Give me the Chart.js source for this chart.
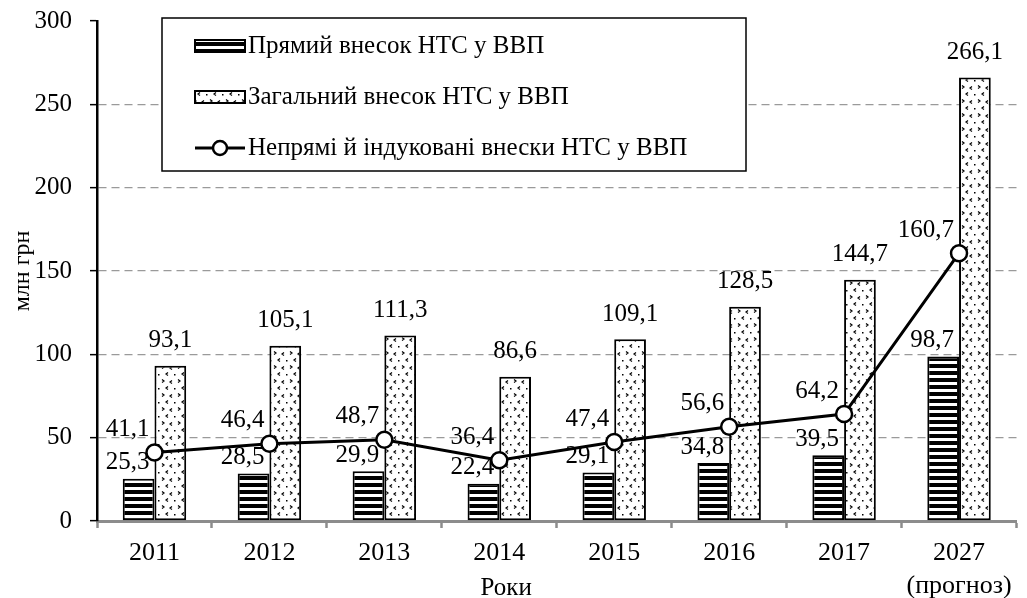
<!DOCTYPE html>
<html lang="uk">
<head>
<meta charset="utf-8">
<title>Внесок НТС у ВВП</title>
<style>
    html, body { margin: 0; padding: 0; background: #ffffff; }
    #wrap { width: 1027px; height: 598px; position: relative; }
</style>
<script src="https://cdn.jsdelivr.net/npm/chart.js@4.4.1/dist/chart.umd.min.js"></script>
</head>
<body>
<div id="wrap"><canvas id="chart" width="1027" height="598"></canvas></div>
<script>
// Data
const years = ['2011', '2012', '2013', '2014', '2015', '2016', '2017', ['2027', '(прогноз)']];
const directContribution = [25.3, 28.5, 29.9, 22.4, 29.1, 34.8, 39.5, 98.7];
const totalContribution = [93.1, 105.1, 111.3, 86.6, 109.1, 128.5, 144.7, 266.1];
const indirectContribution = [41.1, 46.4, 48.7, 36.4, 47.4, 56.6, 64.2, 160.7];
const seriesNames = [
    'Прямий внесок НТС у ВВП',
    'Загальний внесок НТС у ВВП',
    'Непрямі й індуковані внески НТС у ВВП'
];
const yTicks = [0, 50, 100, 150, 200, 250, 300];
const yTitle = 'млн грн';
const xTitle = 'Роки';

const FONT = '"Liberation Serif", "Times New Roman", serif';

function fmt(v) {
    return v.toFixed(1).replace('.', ',');
}

// Fill patterns
function makeStripes(ctx) {
    const c = document.createElement('canvas');
    c.width = 8; c.height = 7;
    const g = c.getContext('2d');
    g.fillStyle = '#ffffff';
    g.fillRect(0, 0, 8, 7);
    g.fillStyle = '#000000';
    g.fillRect(0, 0, 8, 4);
    return ctx.createPattern(c, 'repeat');
}

function makeSpeckles(ctx) {
    const c = document.createElement('canvas');
    c.width = 16; c.height = 14;
    const g = c.getContext('2d');
    g.fillStyle = '#ffffff';
    g.fillRect(0, 0, 16, 14);
    g.strokeStyle = '#000000';
    g.lineWidth = 1.2;
    const chevron = (x, y, dir) => {
        g.beginPath();
        g.moveTo(x, y - 1.5);
        g.lineTo(x + 2 * dir, y);
        g.lineTo(x, y + 1.5);
        g.stroke();
    };
    chevron(2, 3, 1);
    chevron(12, 4, -1);
    chevron(8, 10, -1);
    g.fillStyle = '#000000';
    g.fillRect(14, 10, 1.5, 1.5);
    return ctx.createPattern(c, 'repeat');
}

const canvas = document.getElementById('chart');
const ctx = canvas.getContext('2d');
const stripes = makeStripes(ctx);
const speckles = makeSpeckles(ctx);

// Value labels next to bars and points
const valueLabels = {
    id: 'valueLabels',
    afterDatasetsDraw(chart) {
        const c = chart.ctx;
        c.save();
        c.font = '25px ' + FONT;
        c.fillStyle = '#000000';
        c.textBaseline = 'middle';
        chart.data.datasets.forEach((ds, i) => {
            const meta = chart.getDatasetMeta(i);
            meta.data.forEach((el, j) => {
                const txt = fmt(ds.data[j]);
                if (ds.labelMode === 'top') {
                    c.textAlign = 'center';
                    c.fillText(txt, el.x, el.y - 25);
                } else if (ds.labelMode === 'barLeft') {
                    c.textAlign = 'right';
                    c.fillText(txt, el.x + el.width / 2 - 5, el.y - 16);
                } else if (ds.labelMode === 'pointLeft') {
                    c.textAlign = 'right';
                    c.fillText(txt, el.x - 5, el.y - 23);
                }
            });
        });
        c.restore();
    }
};

// Boxed legend in the upper left and the x axis title
const boxedLegend = {
    id: 'boxedLegend',
    afterDraw(chart) {
        const c = chart.ctx;
        const area = chart.chartArea;
        const ds = chart.data.datasets;
        const boxX = 162, boxY = 18, boxW = 584, boxH = 153;
        c.save();
        c.fillStyle = '#ffffff';
        c.fillRect(boxX, boxY, boxW, boxH);
        c.strokeStyle = '#000000';
        c.lineWidth = 1.5;
        c.strokeRect(boxX, boxY, boxW, boxH);

        const iconX = 195, iconW = 50, textX = 248;
        const rows = [46, 97, 148];
        c.font = '25px ' + FONT;
        c.textBaseline = 'middle';
        c.textAlign = 'left';
        ds.forEach((d, i) => {
            const y = rows[i];
            if (d.type === 'line') {
                c.strokeStyle = '#000000';
                c.lineWidth = 3;
                c.beginPath();
                c.moveTo(iconX, y);
                c.lineTo(iconX + iconW, y);
                c.stroke();
                c.beginPath();
                c.arc(iconX + iconW / 2, y, 7, 0, Math.PI * 2);
                c.fillStyle = '#ffffff';
                c.fill();
                c.lineWidth = 2.5;
                c.stroke();
            } else {
                c.fillStyle = d.backgroundColor;
                c.fillRect(iconX, y - 6, iconW, 12);
                c.strokeStyle = '#000000';
                c.lineWidth = 2;
                c.strokeRect(iconX, y - 6, iconW, 12);
            }
            c.fillStyle = '#000000';
            c.fillText(d.label, textX, y);
        });

        // x axis title
        c.textAlign = 'center';
        c.fillText(xTitle, area.left + (area.right - area.left) * 0.445, 588);
        c.restore();
    }
};

new Chart(canvas, {
    type: 'bar',
    data: {
        labels: years,
        datasets: [
            {
                label: seriesNames[0],
                data: directContribution,
                backgroundColor: stripes,
                borderColor: '#000000',
                borderWidth: 2,
                borderSkipped: false,
                categoryPercentage: 0.552,
                barPercentage: 1,
                order: 1,
                labelMode: 'barLeft'
            },
            {
                label: seriesNames[1],
                data: totalContribution,
                backgroundColor: speckles,
                borderColor: '#000000',
                borderWidth: 2,
                borderSkipped: false,
                categoryPercentage: 0.552,
                barPercentage: 1,
                order: 2,
                labelMode: 'top'
            },
            {
                type: 'line',
                label: seriesNames[2],
                data: indirectContribution,
                borderColor: '#000000',
                borderWidth: 3,
                tension: 0,
                pointRadius: 8,
                pointBackgroundColor: '#ffffff',
                pointBorderColor: '#000000',
                pointBorderWidth: 2.5,
                order: 0,
                labelMode: 'pointLeft'
            }
        ]
    },
    options: {
        responsive: false,
        animation: false,
        layout: {
            padding: { top: 21, right: 1, left: 0, bottom: 0 }
        },
        plugins: {
            legend: { display: false },
            tooltip: { enabled: false }
        },
        scales: {
            x: {
                afterFit(scale) {
                    scale.height = 77;
                    scale.paddingLeft = 0;
                    scale.paddingRight = 0;
                },
                grid: {
                    display: true,
                    drawOnChartArea: false,
                    drawTicks: true,
                    tickLength: 7,
                    tickColor: '#8c8c8c',
                    tickWidth: 2.5
                },
                border: { color: '#8c8c8c', width: 3 },
                ticks: {
                    color: '#000000',
                    padding: 9,
                    maxRotation: 0,
                    autoSkip: false,
                    font: { family: FONT, size: 26, lineHeight: 1.25 }
                }
            },
            y: {
                min: 0,
                max: 300,
                afterFit(scale) {
                    scale.width = 97;
                    scale.paddingTop = 0;
                    scale.paddingBottom = 0;
                },
                afterBuildTicks(scale) {
                    scale.ticks = yTicks.map(v => ({ value: v }));
                },
                grid: {
                    color: (c) => (c.tick && (c.tick.value === 0 || c.tick.value === 300)) ? 'rgba(0,0,0,0)' : '#9a9a9a',
                    lineWidth: 1.3,
                    drawTicks: true,
                    tickLength: 7,
                    tickColor: '#000000',
                    tickWidth: 1.5
                },
                border: { color: '#000000', width: 2.5, dash: [8, 5] },
                ticks: {
                    color: '#000000',
                    padding: 18,
                    font: { family: FONT, size: 25 }
                },
                title: {
                    display: true,
                    text: yTitle,
                    color: '#000000',
                    padding: { top: 8, bottom: 0 },
                    font: { family: FONT, size: 24 }
                }
            }
        }
    },
    plugins: [valueLabels, boxedLegend]
});
</script>
</body>
</html>
